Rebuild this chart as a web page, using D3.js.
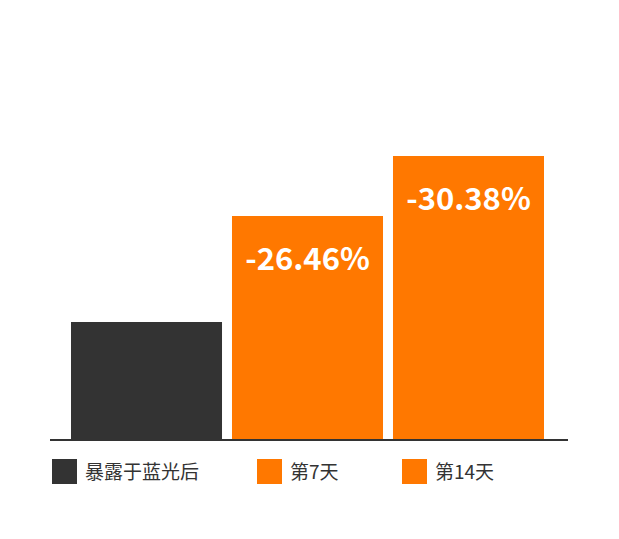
<!DOCTYPE html>
<html>
<head>
<meta charset="utf-8">
<script src="https://cdn.jsdelivr.net/npm/d3@7"></script>
<style>
  body { margin: 0; background: #fff; }
  svg { display: block; font-family: "Noto Sans CJK SC", "Noto Sans", sans-serif; }
</style>
</head>
<body>
<svg id="chart" width="619" height="539"></svg>
<script>
// data
const categories = ['暴露于蓝光后', '第7天', '第14天'];
const values = [117, 223, 283];
const labels = ['', '-26.46%', '-30.38%'];
const colors = ['#333333', '#ff7800', '#ff7800'];

const svg = d3.select('#chart');

const x = d3.scaleBand()
    .domain(categories)
    .range([71, 544])
    .paddingInner(0.062)
    .paddingOuter(0);

const y = d3.scaleLinear()
    .domain([0, 300])
    .range([439, 139]);

svg.append('g')
    .selectAll('rect')
    .data(categories)
    .join('rect')
    .attr('x', d => x(d))
    .attr('y', (d, i) => y(values[i]))
    .attr('width', x.bandwidth())
    .attr('height', (d, i) => y(0) - y(values[i]))
    .attr('fill', (d, i) => colors[i]);

// value labels inside the bars
svg.append('g')
    .selectAll('text')
    .data(categories)
    .join('text')
    .attr('x', d => x(d) + x.bandwidth() / 2)
    .attr('y', (d, i) => y(values[i]) + 54)
    .attr('text-anchor', 'middle')
    .attr('fill', '#fff')
    .attr('font-weight', 'bold')
    .attr('font-size', 31)
    .text((d, i) => labels[i]);

// baseline
svg.append('line')
    .attr('x1', 50).attr('x2', 568)
    .attr('y1', y(0) + 1).attr('y2', y(0) + 1)
    .attr('stroke', '#333')
    .attr('stroke-width', 2);

// legend
const legendX = [52, 257, 402];
const legend = svg.append('g')
    .selectAll('g')
    .data(categories)
    .join('g')
    .attr('transform', (d, i) => `translate(${legendX[i]},459)`);

legend.append('rect')
    .attr('width', 25)
    .attr('height', 25)
    .attr('fill', (d, i) => colors[i]);

legend.append('text')
    .attr('x', 33)
    .attr('y', 20)
    .attr('font-size', 19)
    .attr('fill', '#333')
    .text(d => d);
</script>
</body>
</html>
